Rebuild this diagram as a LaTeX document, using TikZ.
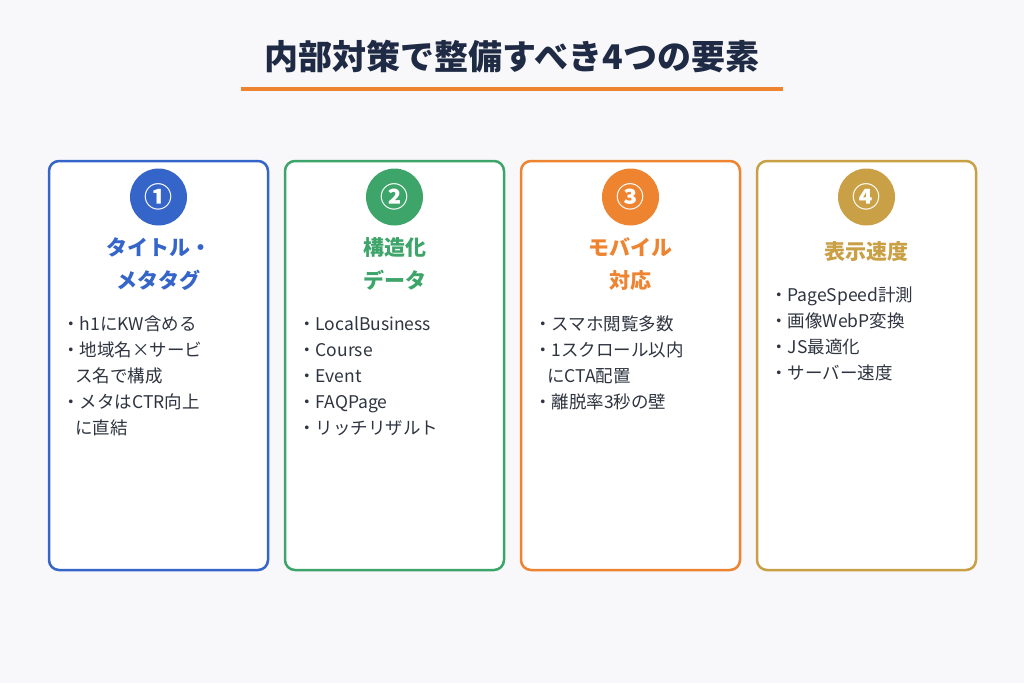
\documentclass[tikz,border=0pt]{standalone}
\usepackage{fontspec}
\setmainfont{Noto Sans CJK JP}
\usetikzlibrary{positioning}
\definecolor{bgcol}{HTML}{F8F8FA}
\definecolor{navy}{HTML}{1F2A44}
\definecolor{bodytxt}{HTML}{2E3440}
\definecolor{cblue}{HTML}{3565C8}
\definecolor{cgreen}{HTML}{3DA56A}
\definecolor{corange}{HTML}{EE8330}
\definecolor{cgold}{HTML}{C9A045}

\begin{document}
\begin{tikzpicture}[x=1pt, y=-1pt,
    card/.style = {draw=#1, line width=2.5pt, fill=white, rounded corners=10pt},
    badge/.style = {circle, fill=#1, minimum size=57pt, inner sep=0pt,
      text=white, font=\bfseries\fontsize{28}{28}\selectfont},
    heading/.style = {text=#1, align=center,
      font=\bfseries\fontsize{21}{33}\selectfont},
    items/.style = {anchor=north west, align=left, text=bodytxt,
      font=\fontsize{17.5}{26}\selectfont, inner sep=0pt}]

  \fill[bgcol] (0,0) rectangle (1024,683);

  % title
  \node[text=navy, font=\bfseries\fontsize{34}{34}\selectfont] (title) at (512,57) {内部対策で整備すべき4つの要素};
  \draw[corange, line width=4pt] (241,89) -- (783,89);

  % cards
  \draw[card=cblue]   (49,161)  rectangle (268,570);
  \draw[card=cgreen]  (285,161) rectangle (504,570);
  \draw[card=corange] (521,161) rectangle (740,570);
  \draw[card=cgold]   (757,161) rectangle (976,570);

  \node[badge=cblue]   (b1) at (158.5,197) {①};
  \node[badge=cgreen]  (b2) at (394.5,197) {②};
  \node[badge=corange] (b3) at (630.5,197) {③};
  \node[badge=cgold]   (b4) at (866.5,197) {④};

  \node[heading=cblue]   (h1) at (158.5,264) {タイトル・\\メタタグ};
  \node[heading=cgreen]  (h2) at (394.5,264) {構造化\\データ};
  \node[heading=corange] (h3) at (630.5,264) {モバイル\\対応};
  \node[heading=cgold]   (h4) at (866.5,252) {表示速度};

  \node[items] (l1) at (62,316)  {・h1にKW含める\\・地域名×サービ\\\hspace{13pt}ス名で構成\\・メタはCTR向上\\\hspace{13pt}に直結};
  \node[items] (l2) at (298,316) {・LocalBusiness\\・Course\\・Event\\・FAQPage\\・リッチリザルト};
  \node[items] (l3) at (534,316) {・スマホ閲覧多数\\・1スクロール以内\\\hspace{13pt}にCTA配置\\・離脱率3秒の壁};
  \node[items] (l4) at (770,287) {・PageSpeed計測\\・画像WebP変換\\・JS最適化\\・サーバー速度};
\end{tikzpicture}
\end{document}
